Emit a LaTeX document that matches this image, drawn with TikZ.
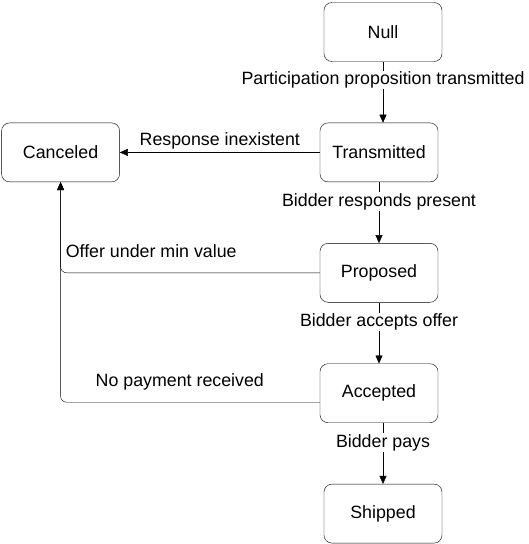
\documentclass[tikz,border=0pt]{standalone}
\usepackage{fontspec}
\setmainfont{Liberation Sans}
\usetikzlibrary{positioning, arrows.meta}
\tikzset{
	->, % arcos dirigidos
	>={Triangle[length=8pt,width=7pt]}, % punta de flecha rellena
	line width=1.2pt, % grosor de lineas
	node distance=61pt, % distancia entre estados
	estado/.style={draw, rounded corners=8pt, minimum width=118pt, minimum height=59pt, font=\fontsize{17.8}{20}\selectfont}, % cajas de estado
	etiqueta/.style={font=\fontsize{17.8}{20}\selectfont, inner sep=1pt} % texto de las transiciones
}

\begin{document}
\begin{tikzpicture}
	\useasboundingbox (0,0) rectangle (529pt,-544pt);
	\node[estado] (null) at (383pt,-32pt) {Null};
	\node[estado, below=of null, xshift=-4pt] (trans) {Transmitted};
	\node[estado, left=200pt of trans] (canc) {Canceled};
	\node[estado, below=of trans] (prop) {Proposed};
	\node[estado, below=of prop] (acep) {Accepted};
	\node[estado, below=of acep, xshift=4pt] (ship) {Shipped};
	\draw	(null.south) -- node[etiqueta, fill=white, pos=0.3] {Participation proposition transmitted} (null.south |- trans.north);
	\draw	(trans.west) -- node[etiqueta, anchor=base, yshift=7pt] {Response inexistent} (canc.east);
	\draw	(trans.south) -- node[etiqueta, fill=white, pos=0.32] {Bidder responds present} (prop.north);
	\draw	(prop.south) -- node[etiqueta, fill=white, pos=0.32] {Bidder accepts offer} (acep.north);
	\draw	(ship.north |- acep.south) -- node[etiqueta, fill=white, pos=0.32] {Bidder pays} (ship.north);
	\draw[rounded corners=6pt]	(prop.west) -| node[etiqueta, pos=0.5, anchor=base west, xshift=4pt, yshift=15pt] {Offer under min value} (canc.south);
	\draw[rounded corners=6pt]	([yshift=-9pt]acep.west) -| node[etiqueta, pos=0.27, anchor=base, yshift=16pt] {No payment received} (canc.south);
\end{tikzpicture}
\end{document}
